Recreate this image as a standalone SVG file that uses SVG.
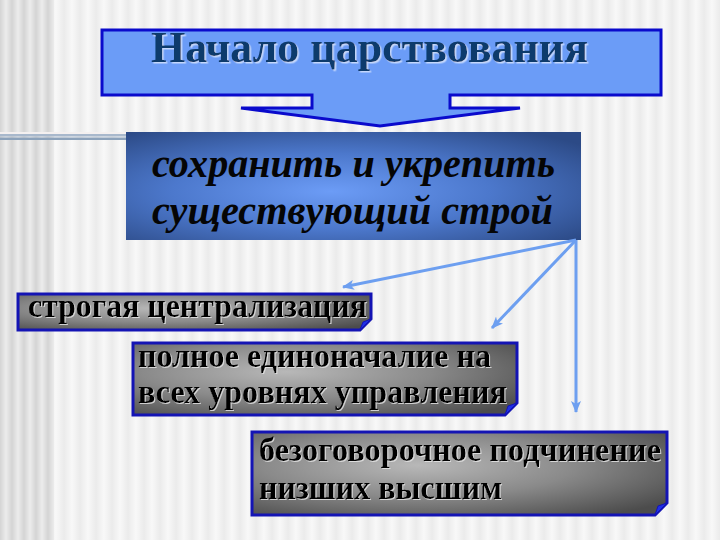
<svg xmlns="http://www.w3.org/2000/svg" width="720" height="540" viewBox="0 0 720 540">
<defs>
<style>
.t{font-family:"Liberation Serif","Times New Roman",serif;font-weight:bold;}
.gray{font-size:33px;fill:#000;filter:url(#sh);}
.ital{font-size:41px;font-style:italic;fill:#050505;}
.box{fill:url(#gg);stroke:#1414b4;stroke-width:3;}
.fold{fill:#1e2ee8;stroke:#1414b4;stroke-width:1;}
.con{stroke:#6d9ff0;stroke-width:3;fill:none;marker-end:url(#ah);}
</style>
<linearGradient id="sL" x1="0" y1="0" x2="1" y2="0">
<stop offset="0" stop-color="#d4d4d4"/><stop offset="0.5" stop-color="#ececec"/><stop offset="1" stop-color="#d4d4d4"/>
</linearGradient>
<linearGradient id="sR" x1="0" y1="0" x2="1" y2="0">
<stop offset="0" stop-color="#ebebeb"/><stop offset="0.5" stop-color="#f8f8f8"/><stop offset="1" stop-color="#ebebeb"/>
</linearGradient>
<pattern id="pL" width="12" height="20" patternUnits="userSpaceOnUse"><rect width="12" height="20" fill="url(#sL)"/></pattern>
<pattern id="pR" width="16" height="20" patternUnits="userSpaceOnUse"><rect width="16" height="20" fill="url(#sR)"/></pattern>
<radialGradient id="gg" cx="0.4" cy="0.4" r="0.75">
<stop offset="0" stop-color="#b8b8b8"/><stop offset="0.5" stop-color="#8a8a8a"/><stop offset="1" stop-color="#4c4c4c"/>
</radialGradient>
<radialGradient id="bg2" cx="0.45" cy="0.55" r="0.7">
<stop offset="0" stop-color="#6c9cf6"/><stop offset="0.5" stop-color="#4c78cc"/><stop offset="1" stop-color="#2c4a86"/>
</radialGradient>
<filter id="sh" x="-5%" y="-20%" width="110%" height="140%">
<feDropShadow dx="1" dy="1" stdDeviation="0.6" flood-color="#e8e8e8" flood-opacity="0.8"/>
</filter>
<filter id="shT" x="-5%" y="-20%" width="110%" height="140%">
<feDropShadow dx="1.5" dy="1.5" stdDeviation="0.5" flood-color="#ffffff" flood-opacity="0.6"/>
</filter>
<marker id="ah" viewBox="0 0 12 10" refX="11" refY="5" markerWidth="12" markerHeight="10" markerUnits="userSpaceOnUse" orient="auto">
<path d="M0,0 L12,5 L0,10 L3,5 Z" fill="#6d9ff0"/>
</marker>
</defs>

<rect width="720" height="540" fill="url(#pR)"/>
<rect width="54" height="540" fill="url(#pL)"/>
<rect x="0" y="132" width="126" height="2" fill="#f4f0f0"/>
<rect x="0" y="134" width="126" height="2.5" fill="#a8b8cc"/>
<rect x="0" y="137.5" width="126" height="2.5" fill="#8ca2bb"/>

<g id="start">
<path d="M102,30 H661 V95 H450 V108 H520 L380,126 L241,108 H312 V95 H102 Z" fill="#6b9cf7" stroke="#0a0acc" stroke-width="3" stroke-linejoin="miter"/>
<text class="t" x="151" y="62" font-size="44" fill="#0c3a6c" textLength="437" lengthAdjust="spacingAndGlyphs" filter="url(#shT)">Начало царствования</text>
</g>

<g id="goal">
<rect x="126" y="132" width="455" height="108" fill="url(#bg2)"/>
<text class="t ital" x="152" y="177" textLength="403" lengthAdjust="spacingAndGlyphs">сохранить и укрепить</text>
<text class="t ital" x="152" y="224" textLength="401" lengthAdjust="spacingAndGlyphs">существующий строй</text>
</g>

<g id="connectors">
<line class="con" x1="576" y1="240" x2="343" y2="287"/>
<line class="con" x1="576" y1="240" x2="492" y2="328"/>
<line class="con" x1="576" y1="240" x2="576" y2="412"/>
</g>

<g id="n1">
<path class="box" d="M18,294 H371 V319 L360,330 H18 Z"/>
<path class="fold" d="M371,319 L360,330 L363,322 Z"/>
<text class="t gray" x="28" y="317" textLength="339" lengthAdjust="spacingAndGlyphs">строгая централизация</text>
</g>

<g id="n2">
<path class="box" d="M133,343 H517 V403 L505,415 H133 Z"/>
<path class="fold" d="M517,403 L505,415 L508,406 Z"/>
<text class="t gray" x="138" y="367" textLength="353" lengthAdjust="spacingAndGlyphs">полное единоначалие на</text>
<text class="t gray" x="138" y="403" textLength="369" lengthAdjust="spacingAndGlyphs">всех уровнях управления</text>
</g>

<g id="n3">
<path class="box" d="M252,432 H667 V503 L655,515 H252 Z"/>
<path class="fold" d="M667,503 L655,515 L658,506 Z"/>
<text class="t gray" x="259" y="461" textLength="402" lengthAdjust="spacingAndGlyphs">безоговорочное подчинение</text>
<text class="t gray" x="259" y="499" textLength="243" lengthAdjust="spacingAndGlyphs">низших высшим</text>
</g>
</svg>
